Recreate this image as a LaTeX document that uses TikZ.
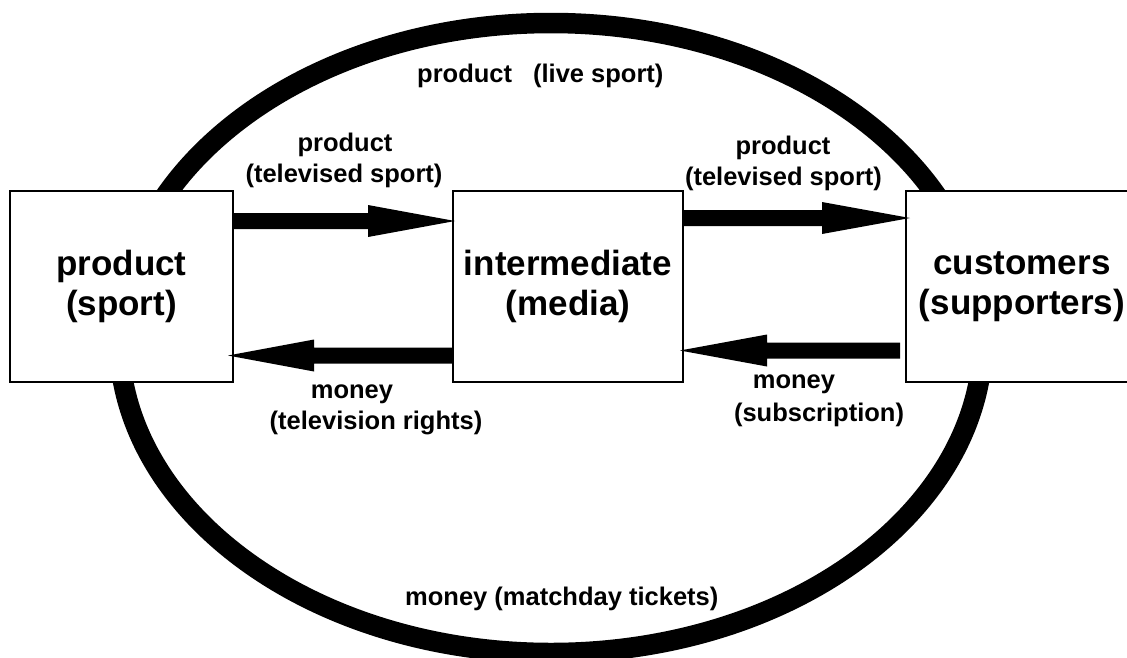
\documentclass[tikz,border=0pt]{standalone}
\usepackage{fontspec}
\setmainfont{Liberation Sans}
\usetikzlibrary{calc}
\newcommand{\boxtextfont}{\fontsize{35}{40}\selectfont\bfseries}
\newcommand{\flowlabelfont}{\fontsize{25.5}{30}\selectfont\bfseries}
% fat block arrow from #1 to #2 (same height); #3 = signed head length
\newcommand{\fatarrow}[3]{%
  \fill ($(#1)+(0,-8)$) -- ($(#2)+({-(#3)},-8)$) -- ($(#2)+({-(#3)},-16)$)
    -- (#2) -- ($(#2)+({-(#3)},16)$) -- ($(#2)+({-(#3)},8)$)
    -- ($(#1)+(0,8)$) -- cycle;}
\begin{document}
\begin{tikzpicture}[x=1pt,y=-1pt,
  party/.style={draw, rectangle, line width=1.8pt, fill=white, outer sep=0pt,
    inner sep=0pt, align=center, minimum height=191pt, font=\boxtextfont},
  flowlabel/.style={anchor=base, inner sep=0pt, font=\flowlabelfont},
  ring/.style={draw, line width=20.5pt}]
  \path[use as bounding box] (0,0) rectangle (1127,657);
  \clip (0,0) rectangle (1127,657);

  % live-sport / matchday loop behind everything
  \path[ring] (551,338) ellipse [x radius=432, y radius=315];

  % the three parties
  \node[party, minimum width=223pt] (sport) at (121.5,286.5) {product\\(sport)};
  \node[party, minimum width=230pt] (media) at (568,286.5) {intermediate\\(media)};
  \node[party, minimum width=232pt] (fans)  at (1022,286.5) {customers\\(supporters)};

  % end points of the flows
  \coordinate (tvAs) at (sport.east |- 0,221);
  \coordinate (tvAe) at ($(media.west |- 0,221)+(2,0)$);
  \coordinate (rtAs) at ($(media.west |- 0,355.5)+(-1,0)$);
  \coordinate (rtAe) at ($(sport.east |- 0,355.5)+(-5,0)$);
  \coordinate (tvBs) at (media.east |- 0,218);
  \coordinate (tvBe) at ($(fans.west |- 0,218)+(4,0)$);
  \coordinate (sbAs) at ($(fans.west |- 0,350.5)+(-6,0)$);
  \coordinate (sbAe) at ($(media.east |- 0,350.5)+(-3,0)$);

  % flows between the parties
  \fatarrow{tvAs}{tvAe}{87}
  \fatarrow{rtAs}{rtAe}{-86}
  \fatarrow{tvBs}{tvBe}{88}
  \fatarrow{sbAs}{sbAe}{-87}

  % flow labels
  \node[flowlabel] (tvA1) at (345,151) {product};
  \node[flowlabel] (tvA2) at (344,182) {(televised sport)};
  \node[flowlabel] (tvB1) at (783,154) {product};
  \node[flowlabel] (tvB2) at (783.5,185) {(televised sport)};
  \node[flowlabel] (rightsA) at (352,398) {money};
  \node[flowlabel] (rightsB) at (376,429) {(television rights)};
  \node[flowlabel] (subsA) at (794,388) {money};
  \node[flowlabel] (subsB) at (819,421) {(subscription)};
  \node[flowlabel, anchor=base west] (live) at (417,82) {product\hspace{21pt}(live sport)};
  \node[flowlabel, anchor=base west] (tickets) at (405,605) {money (matchday tickets)};
\end{tikzpicture}
\end{document}
